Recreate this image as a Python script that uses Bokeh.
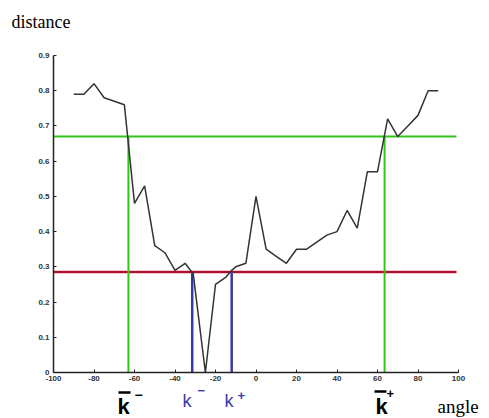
from bokeh.plotting import figure
from bokeh.models import Range1d, Label, FixedTicker, LinearAxis
from bokeh.embed import file_html
from bokeh.resources import INLINE

# data
angles = [-90, -85, -80, -75, -70, -65, -60, -55, -50, -45, -40, -35, -31, -25, -20, -15, -12, -10, -5,
          0, 5, 10, 15, 20, 25, 30, 35, 40, 45, 50, 55, 60, 65, 70, 75, 80, 85, 90]
distance = [0.79, 0.79, 0.82, 0.78, 0.77, 0.76, 0.48, 0.53, 0.36, 0.34, 0.29, 0.31, 0.28, 0.00, 0.25, 0.27, 0.29, 0.30, 0.31,
            0.50, 0.35, 0.33, 0.31, 0.35, 0.35, 0.37, 0.39, 0.40, 0.46, 0.41, 0.57, 0.57, 0.72, 0.67, 0.70, 0.73, 0.80, 0.80]

high_threshold = 0.67
low_threshold = 0.285
kbar_minus, kbar_plus = -63.0, 63.5
k_minus, k_plus = -31.5, -12.0
x_ticks = [-100, -80, -60, -40, -20, 0, 20, 40, 60, 80, 100]
y_ticks = [0, 0.1, 0.2, 0.3, 0.4, 0.5, 0.6, 0.7, 0.8, 0.9]

W, H = 489, 418
# axis box in page pixels
AX_L, AX_R, AX_T, AX_B = 53, 458, 55, 372
XMIN, XMAX, YMIN, YMAX = -100, 100, 0.0, 0.9
sx = (AX_R - AX_L) / (XMAX - XMIN)
sy = (AX_B - AX_T) / (YMAX - YMIN)

p = figure(width=W, height=H, output_backend="svg", toolbar_location=None,
           x_range=Range1d(XMIN - AX_L / sx, XMAX + (W - AX_R) / sx),
           y_range=Range1d(YMIN - (H - AX_B) / sy, YMAX + AX_T / sy),
           x_axis_location=None, y_axis_location=None,
           min_border=0, min_border_left=0, min_border_right=0,
           min_border_top=0, min_border_bottom=0)
p.outline_line_color = None
p.background_fill_color = "white"
p.border_fill_color = "white"
p.xgrid.visible = False
p.ygrid.visible = False

xaxis = LinearAxis(fixed_location=YMIN, bounds=(XMIN, XMAX), ticker=FixedTicker(ticks=x_ticks))
yaxis = LinearAxis(fixed_location=XMIN, bounds=(YMIN, YMAX), ticker=FixedTicker(ticks=y_ticks))
p.add_layout(xaxis, "below")
p.add_layout(yaxis, "left")

for ax in (xaxis, yaxis):
    ax.axis_line_color = "#222222"
    ax.axis_line_width = 1.5
    ax.major_tick_in = 3
    ax.major_tick_out = 0
    ax.major_tick_line_color = "#222222"
    ax.minor_tick_line_color = None
    ax.major_label_text_font = "Liberation Sans"
    ax.major_label_text_font_size = "8px"
    ax.major_label_text_font_style = "bold"
    ax.major_label_text_color = "#333333"
xaxis.major_label_standoff = 3
yaxis.major_label_standoff = 4
xaxis.major_label_overrides = {t: ("%d" % t) for t in x_ticks}
yaxis.major_label_overrides = {t: ("0" if t == 0 else "%g" % t) for t in y_ticks}

green = "#33c41a"
red = "#a8102c"
blue = "#3a3aa6"

p.line([-100, 99], [high_threshold, high_threshold], line_color=green, line_width=2)
p.line([-100, 99], [low_threshold, low_threshold], line_color="#f2a0b0", line_width=4, line_alpha=0.6)
p.line([-100, 99], [low_threshold, low_threshold], line_color=red, line_width=2)
for xv in (kbar_minus, kbar_plus):
    p.line([xv, xv], [0, high_threshold], line_color=green, line_width=2)
for xv in (k_minus, k_plus):
    p.line([xv, xv], [0, low_threshold], line_color=blue, line_width=2.5)

p.line(angles, distance, line_color="#333333", line_width=1.5)


def dx(px):
    return XMIN + (px - AX_L) / sx


def dy(py):
    return YMIN + (AX_B - py) / sy


def lab(text, px, py, size, shift, color="black", font="Liberation Sans", style="bold"):
    py = py - shift
    p.add_layout(Label(x=dx(px), y=dy(py), text=text,
                       text_font=font, text_font_size=size, text_font_style=style,
                       text_color=color, text_align="left", text_baseline="alphabetic"))


def overbar(px0, px1, py):
    p.line([dx(px0), dx(px1)], [dy(py), dy(py)], line_color="black", line_width=2.5)


lab("distance", 11, 27, "18px", 6, font="Liberation Serif", style="normal")
lab("angle", 437, 412, "19px", 6, font="Liberation Serif", style="normal")

lab("k", 117, 414, "22px", 8)
overbar(118, 130, 392)
lab("\u2212", 134, 402, "14px", 8)
lab("k", 375, 414, "22px", 8)
overbar(374, 386, 391)
lab("+", 386, 401, "13px", 8)
lab("k", 182, 408, "18px", 8, color=blue, style="normal")
lab("\u2212", 197, 398, "13px", 8, color=blue)
lab("k", 224, 408, "18px", 8, color=blue, style="normal")
lab("+", 237, 403, "13px", 8, color=blue)

open("out.html", "w").write(file_html(p, INLINE))
